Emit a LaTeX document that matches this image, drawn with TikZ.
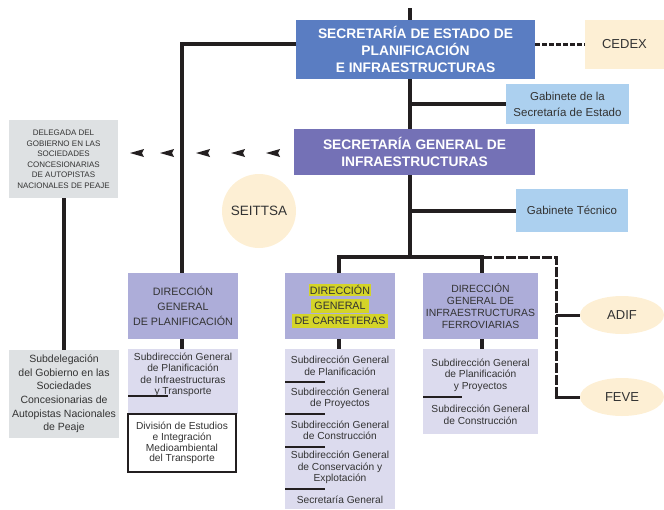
\documentclass[tikz,border=0pt]{standalone}
\usepackage{fontspec}
\setmainfont{Liberation Sans}
\usetikzlibrary{shapes.geometric}
\definecolor{seblue}{RGB}{90,125,194}
\definecolor{sgpurple}{RGB}{116,113,182}
\definecolor{dghead}{RGB}{173,173,217}
\definecolor{sublav}{RGB}{220,219,238}
\definecolor{gablue}{RGB}{172,208,239}
\definecolor{beige}{RGB}{253,239,212}
\definecolor{greybox}{RGB}{222,225,227}
\definecolor{hlyellow}{RGB}{212,212,40}
\definecolor{txt}{RGB}{51,51,51}
\definecolor{linec}{RGB}{35,31,32}
\tikzset{
  main/.style={line width=4pt, draw=linec},
  dashmain/.style={line width=3pt, draw=linec, dash pattern=on 10pt off 2pt},
  stub/.style={line width=3pt, draw=linec},
  sepline/.style={line width=1.2pt, draw=linec},
  box/.style={anchor=north west, inner sep=0pt, outer sep=0pt, align=center, text=txt},
  header/.style={box, text=white, font=\fontsize{13.8}{17}\selectfont\bfseries},
  gab/.style={box, fill=gablue, font=\fontsize{11.5}{16}\selectfont},
  dghd/.style={box, fill=dghead, font=\fontsize{10.7}{15}\selectfont, minimum width=110pt, minimum height=66pt},
  subbox/.style={box, fill=sublav},
  lbl/.style={align=center, text=txt, inner sep=0pt, font=\fontsize{10.2}{11.5}\selectfont},
  oval/.style={ellipse, fill=beige, inner sep=0pt, text=txt, font=\fontsize{13}{15}\selectfont, minimum width=84pt, minimum height=38pt},
  arrowmark/.style={fill=linec}
}
\begin{document}
\begin{tikzpicture}[x=1pt,y=-1pt]
\useasboundingbox (0,0) rectangle (664,509);

% boxes
\node[header, fill=seblue, minimum width=239pt, minimum height=59pt] (se) at (296,20)
  {SECRETARÍA DE ESTADO DE\\PLANIFICACIÓN\\E INFRAESTRUCTURAS};
\node[box, fill=beige, minimum width=79pt, minimum height=49pt, font=\fontsize{13}{15}\selectfont] (cedex) at (585,20) {CEDEX};
\node[gab, minimum width=123pt, minimum height=40pt] (gse) at (506,84) {Gabinete de la\\Secretaría de Estado};
\node[header, fill=sgpurple, minimum width=241pt, minimum height=46pt] (sg) at (294,129)
  {SECRETARÍA GENERAL DE\\INFRAESTRUCTURAS};
\node[gab, minimum width=112pt, minimum height=43pt] (gt) at (516,189) {Gabinete Técnico};
\node[circle, fill=beige, minimum size=74pt, inner sep=0pt, text=txt, font=\fontsize{13.5}{15}\selectfont] (seittsa) at (259,211) {SEITTSA};

\node[box, fill=greybox, minimum width=109pt, minimum height=78pt, font=\fontsize{8}{10.5}\selectfont] (deleg) at (9,120)
  {DELEGADA DEL\\GOBIERNO EN LAS\\SOCIEDADES\\CONCESIONARIAS\\DE AUTOPISTAS\\NACIONALES DE PEAJE};
\node[box, fill=greybox, minimum width=110pt, minimum height=88pt, font=\fontsize{10.5}{13.6}\selectfont] (subdeleg) at (9,350)
  {Subdelegación\\del Gobierno en las\\Sociedades\\Concesionarias de\\Autopistas Nacionales\\de Peaje};

% Direccion General de Planificacion
\node[dghd] (dgp) at (128,273) {DIRECCIÓN\\GENERAL\\DE PLANIFICACIÓN};
\node[subbox, minimum width=110pt, minimum height=65pt] (dgpsub) at (128,349) {};
\node[lbl] (dgp1) at (183,375) {Subdirección General\\de Planificación\\de Infraestructuras\\y Transporte};
\node[box, fill=white, draw=linec, line width=1.2pt, minimum width=108pt, minimum height=58pt, font=\fontsize{10.2}{10.8}\selectfont] (dgpdiv) at (128,414)
  {División de Estudios\\e Integración\\Medioambiental\\del Transporte};

% Direccion General de Carreteras
\node[dghd] (dgc) at (285,273) {\setlength{\fboxsep}{1pt}\colorbox{hlyellow}{DIRECCIÓN}\\\colorbox{hlyellow}{GENERAL}\\\colorbox{hlyellow}{DE CARRETERAS}};
\node[subbox, minimum width=110pt, minimum height=160pt] (dgcsub) at (285,349) {};
\node[lbl] (dgc1) at (340,366) {Subdirección General\\de Planificación};
\node[lbl] (dgc2) at (340,398.5) {Subdirección General\\de Proyectos};
\node[lbl] (dgc3) at (340,430.5) {Subdirección General\\de Construcción};
\node[lbl] (dgc4) at (340,467.5) {Subdirección General\\de Conservación y\\Explotación};
\node[lbl] (dgc5) at (340,499.5) {Secretaría General};

% Direccion General de Infraestructuras Ferroviarias
\node[dghd, minimum width=115pt, font=\fontsize{10.4}{12.3}\selectfont] (dgf) at (423,273) {DIRECCIÓN\\GENERAL DE\\INFRAESTRUCTURAS\\FERROVIARIAS};
\node[subbox, minimum width=115pt, minimum height=85pt] (dgfsub) at (423,349) {};
\node[lbl] (dgf1) at (480.5,375) {Subdirección General\\de Planificación\\y Proyectos};
\node[lbl] (dgf2) at (480.5,415) {Subdirección General\\de Construcción};

\node[oval] (adif) at (622,315) {ADIF};
\node[oval] (feve) at (622,397) {FEVE};

% separators
\coordinate (dgpsep) at (128,396);
\draw[sepline] (dgpsep) -- ++(40,0);
\foreach \yy/\nm in {382/a,414/b,447/c,489/d}{
  \coordinate (dgcsep\nm) at (285,\yy);
  \draw[sepline] (dgcsep\nm) -- ++(40,0);
}
\coordinate (dgfsep) at (423,397);
\draw[sepline] (dgfsep) -- ++(39,0);

% connectors
\coordinate (topend) at (410,8);
\coordinate (lefttop) at (182,44);
\coordinate (bus) at (410,257);
\coordinate (busL) at (339,257);
\coordinate (busR) at (482,257);
\coordinate (dashR) at (556,257);
\coordinate (delegx) at (64,0);

\draw[main] (topend) -- (se.north -| topend);
\draw[main] (se.south -| topend) -- (sg.north -| topend);
\draw[main] (gse.west -| topend) -- (gse.west);
\draw[main] (sg.south -| topend) -- (bus);
\draw[main] (gt.west -| topend) -- (gt.west);
\draw[main, line join=miter] (se.west |- lefttop) -- (lefttop) -- (dgp.north -| lefttop);
\draw[line width=2.2pt, draw=linec, dash pattern=on 5pt off 2pt] (se.east |- cedex.west) -- (cedex.west);
\draw[main, line join=miter] (dgc.north -| busL) -- (busL) -- (busR) -- (dgf.north -| busR);
\draw[main] (dgp.south -| lefttop) -- (dgpsub.north -| lefttop);
\draw[main] (dgc.south -| busL) -- (dgcsub.north -| busL);
\draw[main] (dgf.south -| busR) -- (dgfsub.north -| busR);
\draw[main] (deleg.south -| delegx) -- (subdeleg.north -| delegx);
\draw[dashmain, line join=miter] (busR) -- (dashR) -- (dashR |- feve.west);
\draw[stub] (dashR |- adif.west) -- (adif.west);
\draw[stub] ([xshift=-1.5pt]dashR |- feve.west) -- (feve.west);

% arrow marks pointing to the Delegada box
\foreach \xx in {137,167,203,238,273}{
  \fill[arrowmark] (\xx-7,153) -- (\xx+7,149) -- (\xx+5,153) -- (\xx+7,157) -- cycle;
}
\end{tikzpicture}
\end{document}
